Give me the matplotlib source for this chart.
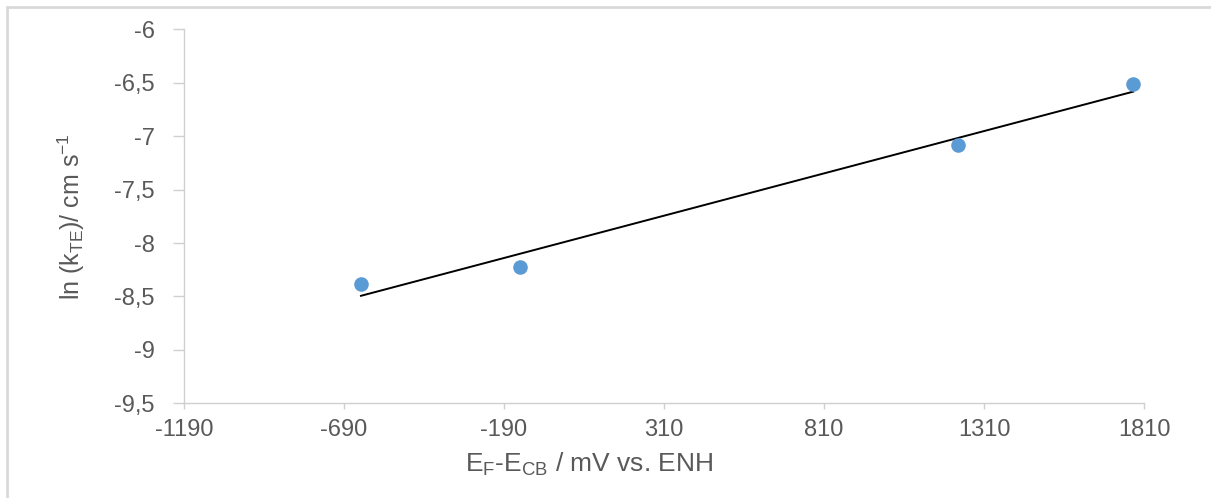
import numpy as np
import matplotlib
matplotlib.use("Agg")
import matplotlib.pyplot as plt
from matplotlib.patches import Rectangle

# ---- data ----
x_vals = [-637, -140, 1229, 1776]
y_vals = [-8.385, -8.22, -7.08, -6.51]
x_ticks = [-1190, -690, -190, 310, 810, 1310, 1810]
x_tick_labels = ["-1190", "-690", "-190", "310", "810", "1310", "1810"]
y_ticks = [-9.5, -9.0, -8.5, -8.0, -7.5, -7.0, -6.5, -6.0]
y_tick_labels = ["-9,5", "-9", "-8,5", "-8", "-7,5", "-7", "-6,5", "-6"]

plt.rcParams['font.family'] = ['Liberation Sans', 'DejaVu Sans']
plt.rcParams['mathtext.fontset'] = 'custom'
plt.rcParams['mathtext.rm'] = 'Liberation Sans'

W, H = 1211, 498
fig = plt.figure(figsize=(W / 100, H / 100), dpi=100)
fig.patch.set_facecolor('white')

ax = fig.add_axes([184 / W, (H - 403.3) / H, 960 / W, 374 / H])

# trend line (least squares fit)
slope, intercept = np.polyfit(x_vals, y_vals, 1)
xl = np.array([min(x_vals), max(x_vals)])
ax.plot(xl, slope * xl + intercept, color='black', lw=1.4, zorder=2)

ax.plot(x_vals, y_vals, 'o', color='#5B9BD5', ms=10.5, mec='none', zorder=3)

ax.set_xlim(-1190, 1810)
ax.set_ylim(-9.5, -6.0)
ax.set_xticks(x_ticks)
ax.set_xticklabels(x_tick_labels)
ax.set_yticks(y_ticks)
ax.set_yticklabels(y_tick_labels)

grey = '#595959'
line_grey = '#D0D0D0'
for s in ['top', 'right']:
    ax.spines[s].set_visible(False)
for s in ['left', 'bottom']:
    ax.spines[s].set_color(line_grey)
    ax.spines[s].set_linewidth(1.0)

ax.tick_params(axis='y', direction='out', length=8, width=1.0, color=line_grey,
               labelsize=17, labelcolor=grey, pad=13)
ax.tick_params(axis='x', direction='out', length=4.5, width=1.0, color=line_grey,
               labelsize=17, labelcolor=grey, pad=7)

ax.set_ylabel(r'ln (k$_{\mathregular{TE}}$)/ cm s$^{\mathregular{-1}}$', fontsize=18, color=grey)
ax.yaxis.set_label_coords(-0.117, 0.5)
ax.yaxis.label.set_va('center')
ax.set_xlabel(r'E$_{\mathregular{F}}$-E$_{\mathregular{CB}}$ / mV vs. ENH', fontsize=19, color=grey)
ax.xaxis.set_label_coords(0.422, -0.163)
ax.xaxis.label.set_va('center')

# outer chart border (only left and top visible)
fig.patches.append(Rectangle((7 / W, -0.1), 1.2, 1.1 - 7 / H, transform=fig.transFigure,
                             fill=False, edgecolor='#D9D9D9', lw=2.0, zorder=0))

fig.savefig('out.png', dpi=100, facecolor='white')
